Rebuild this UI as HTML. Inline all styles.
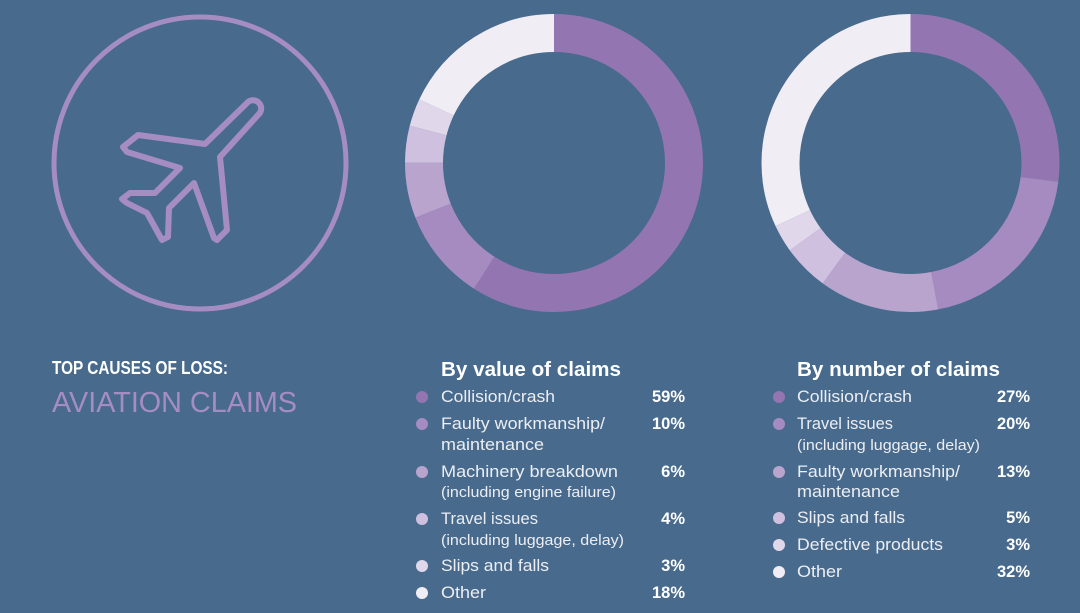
<!DOCTYPE html>
<html>
<head>
<meta charset="utf-8">
<style>
html,body{margin:0;padding:0;background:#476a8d;}
svg{display:block;}
text{font-family:"Liberation Sans",sans-serif;}
.t{fill:#eceef3;font-size:16.5px;}
.s{fill:#eceef3;font-size:14.5px;}
.p{fill:#ffffff;font-size:16.5px;font-weight:bold;}
.h{fill:#ffffff;font-size:20px;font-weight:bold;}
</style>
</head>
<body>
<svg width="1080" height="613" viewBox="0 0 1080 613" xmlns="http://www.w3.org/2000/svg">
<rect width="1080" height="613" fill="#476a8d"/>

<!-- icon circle -->
<circle cx="200" cy="163" r="146" fill="none" stroke="#a68dc1" stroke-width="5"/>
<!-- plane -->
<path d="M248,102 L205,144 L138,135 L123,147 L127,152 L180,168 L155,193 L130,193 L122,199 L127,203 L147,213 L162,240 L168,237 L169,208 L194,183 L214,238 L217,240 L227,230 L220,157 L258,115 A8.2,8.2 0 0 0 248,102 Z" fill="none" stroke="#a68dc1" stroke-width="6" stroke-linejoin="round"/>

<!-- donut 1 -->
<g transform="rotate(-90 554 163)" fill="none" stroke-width="38">
<circle cx="554" cy="163" r="130" stroke="#9376b1" stroke-dasharray="481.92 816.81" stroke-dashoffset="0"/>
<circle cx="554" cy="163" r="130" stroke="#a58bc0" stroke-dasharray="81.68 816.81" stroke-dashoffset="-481.92"/>
<circle cx="554" cy="163" r="130" stroke="#b9a4ce" stroke-dasharray="49.01 816.81" stroke-dashoffset="-563.60"/>
<circle cx="554" cy="163" r="130" stroke="#cfc0e0" stroke-dasharray="32.67 816.81" stroke-dashoffset="-612.61"/>
<circle cx="554" cy="163" r="130" stroke="#e0d8ea" stroke-dasharray="24.50 816.81" stroke-dashoffset="-645.28"/>
<circle cx="554" cy="163" r="130" stroke="#f1edf5" stroke-dasharray="147.03 816.81" stroke-dashoffset="-669.78"/>
</g>

<!-- donut 2 -->
<g transform="rotate(-90 910.5 163)" fill="none" stroke-width="38">
<circle cx="910.5" cy="163" r="130" stroke="#9376b1" stroke-dasharray="220.54 816.81" stroke-dashoffset="0"/>
<circle cx="910.5" cy="163" r="130" stroke="#a58bc0" stroke-dasharray="163.36 816.81" stroke-dashoffset="-220.54"/>
<circle cx="910.5" cy="163" r="130" stroke="#b9a4ce" stroke-dasharray="106.19 816.81" stroke-dashoffset="-383.90"/>
<circle cx="910.5" cy="163" r="130" stroke="#cfc0e0" stroke-dasharray="40.84 816.81" stroke-dashoffset="-490.09"/>
<circle cx="910.5" cy="163" r="130" stroke="#e0d8ea" stroke-dasharray="24.50 816.81" stroke-dashoffset="-530.93"/>
<circle cx="910.5" cy="163" r="130" stroke="#f1edf5" stroke-dasharray="261.38 816.81" stroke-dashoffset="-555.43"/>
</g>

<!-- Title -->
<text x="52" y="374" fill="#ffffff" font-size="18.5" font-weight="bold" textLength="176" lengthAdjust="spacingAndGlyphs">TOP CAUSES OF LOSS:</text>
<text x="52" y="412" fill="#a68dc1" font-size="29" textLength="245" lengthAdjust="spacingAndGlyphs">AVIATION CLAIMS</text>

<!-- Legend 1 -->
<text class="h" x="441" y="376" textLength="180" lengthAdjust="spacingAndGlyphs">By value of claims</text>
<circle cx="422" cy="397" r="6" fill="#9376b1"/>
<text class="t" x="441" y="402" textLength="114" lengthAdjust="spacingAndGlyphs">Collision/crash</text>
<text class="p" x="685" y="402" text-anchor="end">59%</text>
<circle cx="422" cy="424" r="6" fill="#a58bc0"/>
<text class="t" x="441" y="429" textLength="164" lengthAdjust="spacingAndGlyphs">Faulty workmanship/</text>
<text class="t" x="441" y="450" textLength="103" lengthAdjust="spacingAndGlyphs">maintenance</text>
<text class="p" x="685" y="429" text-anchor="end">10%</text>
<circle cx="422" cy="472" r="6" fill="#b9a4ce"/>
<text class="t" x="441" y="477" textLength="177" lengthAdjust="spacingAndGlyphs">Machinery breakdown</text>
<text class="s" x="441" y="497" textLength="175" lengthAdjust="spacingAndGlyphs">(including engine failure)</text>
<text class="p" x="685" y="477" text-anchor="end">6%</text>
<circle cx="422" cy="519" r="6" fill="#cfc0e0"/>
<text class="t" x="441" y="524" textLength="97" lengthAdjust="spacingAndGlyphs">Travel issues</text>
<text class="s" x="441" y="545" textLength="183" lengthAdjust="spacingAndGlyphs">(including luggage, delay)</text>
<text class="p" x="685" y="524" text-anchor="end">4%</text>
<circle cx="422" cy="566" r="6" fill="#e0d8ea"/>
<text class="t" x="441" y="571" textLength="108" lengthAdjust="spacingAndGlyphs">Slips and falls</text>
<text class="p" x="685" y="571" text-anchor="end">3%</text>
<circle cx="422" cy="593" r="6" fill="#f1edf5"/>
<text class="t" x="441" y="598" textLength="45" lengthAdjust="spacingAndGlyphs">Other</text>
<text class="p" x="685" y="598" text-anchor="end">18%</text>

<!-- Legend 2 -->
<text class="h" x="797" y="376" textLength="203" lengthAdjust="spacingAndGlyphs">By number of claims</text>
<circle cx="779" cy="397" r="6" fill="#9376b1"/>
<text class="t" x="797" y="402" textLength="115" lengthAdjust="spacingAndGlyphs">Collision/crash</text>
<text class="p" x="1030" y="402" text-anchor="end">27%</text>
<circle cx="779" cy="424" r="6" fill="#a58bc0"/>
<text class="t" x="797" y="429" textLength="96" lengthAdjust="spacingAndGlyphs">Travel issues</text>
<text class="s" x="797" y="450" textLength="183" lengthAdjust="spacingAndGlyphs">(including luggage, delay)</text>
<text class="p" x="1030" y="429" text-anchor="end">20%</text>
<circle cx="779" cy="472" r="6" fill="#b9a4ce"/>
<text class="t" x="797" y="477" textLength="163" lengthAdjust="spacingAndGlyphs">Faulty workmanship/</text>
<text class="t" x="797" y="497" textLength="103" lengthAdjust="spacingAndGlyphs">maintenance</text>
<text class="p" x="1030" y="477" text-anchor="end">13%</text>
<circle cx="779" cy="518" r="6" fill="#cfc0e0"/>
<text class="t" x="797" y="523" textLength="108" lengthAdjust="spacingAndGlyphs">Slips and falls</text>
<text class="p" x="1030" y="523" text-anchor="end">5%</text>
<circle cx="779" cy="545" r="6" fill="#e0d8ea"/>
<text class="t" x="797" y="550" textLength="146" lengthAdjust="spacingAndGlyphs">Defective products</text>
<text class="p" x="1030" y="550" text-anchor="end">3%</text>
<circle cx="779" cy="572" r="6" fill="#f1edf5"/>
<text class="t" x="797" y="577" textLength="45" lengthAdjust="spacingAndGlyphs">Other</text>
<text class="p" x="1030" y="577" text-anchor="end">32%</text>
</svg>
</body>
</html>
